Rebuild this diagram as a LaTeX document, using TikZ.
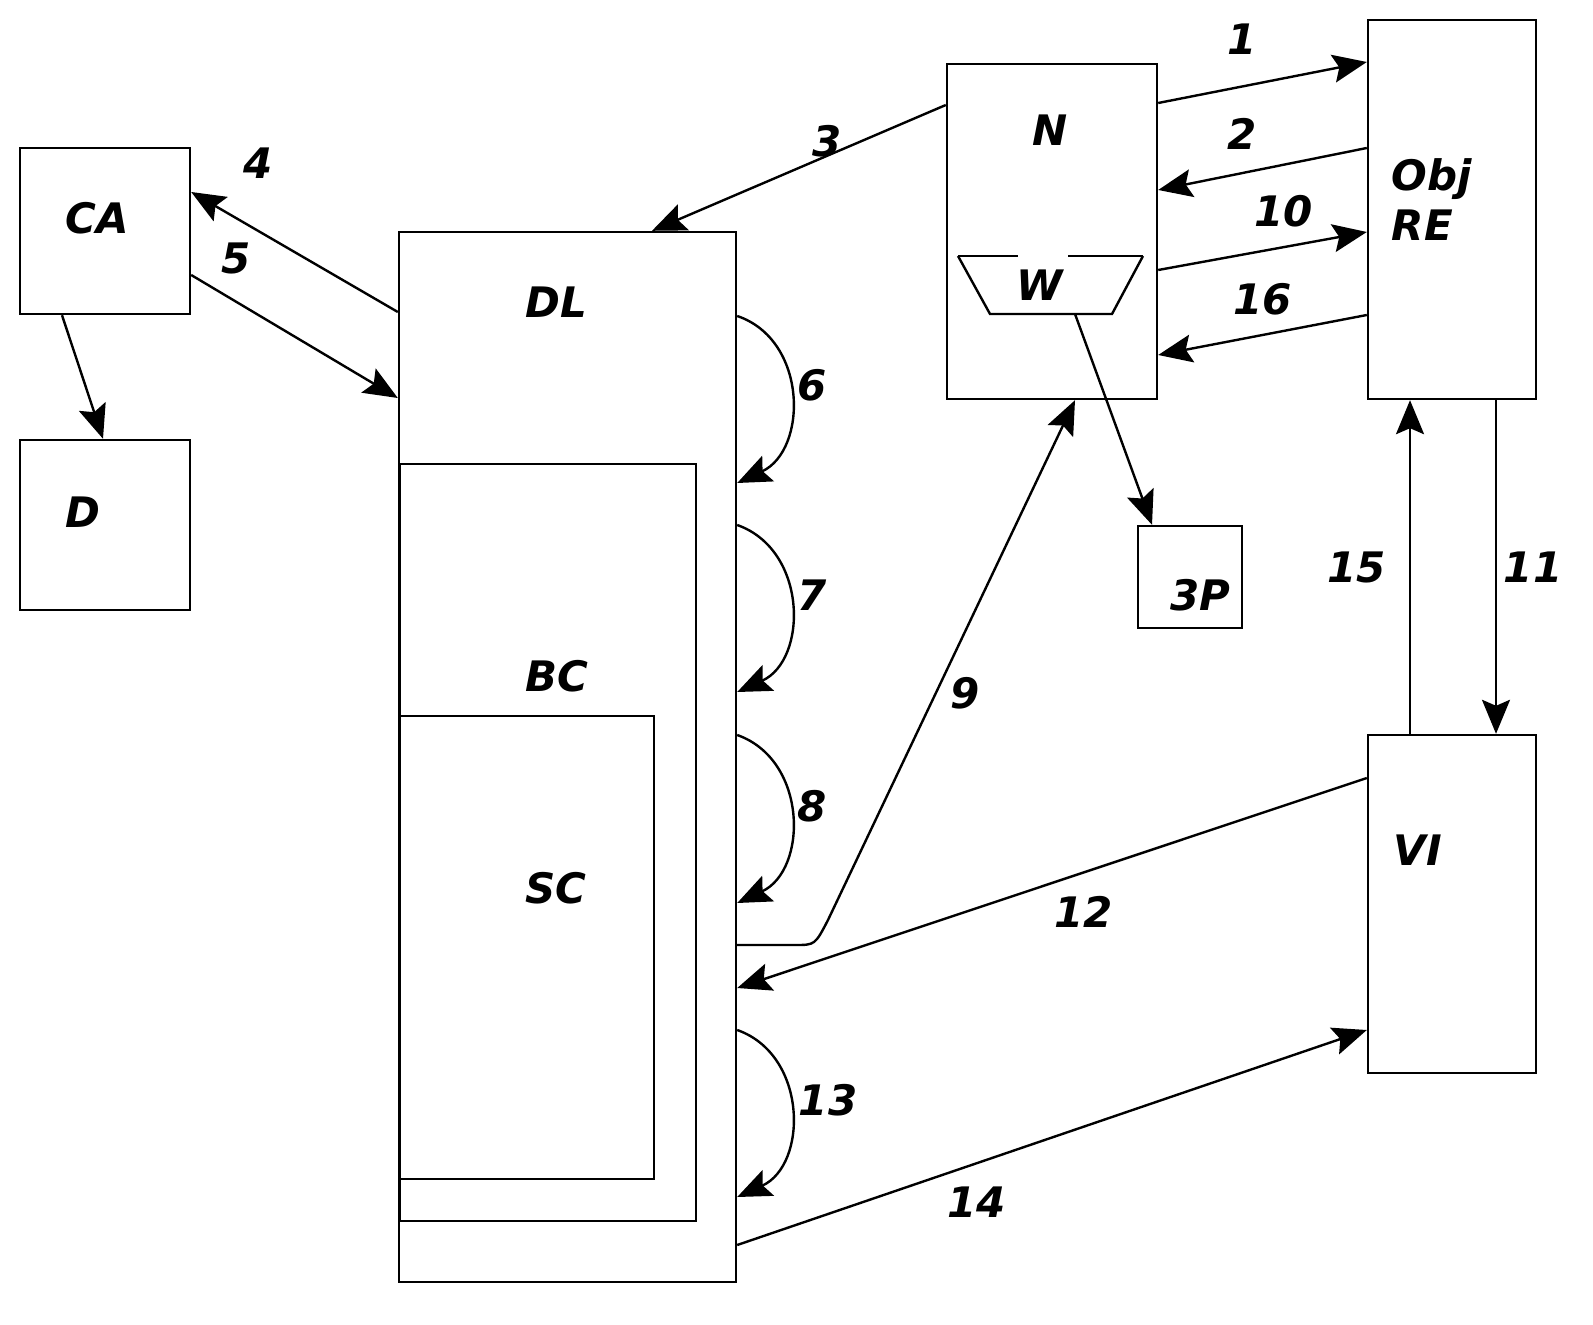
\documentclass[tikz,border=0pt]{standalone}
\usepackage{fontspec}
\setmainfont{DejaVu Sans}
\usetikzlibrary{arrows.meta, positioning}

\begin{document}
\begin{tikzpicture}[x=0.5pt, y=-0.5pt, line width=1.2pt,
  >={Stealth[length=17pt,width=14pt,inset=3pt]},
  box/.style={draw, rectangle, inner sep=0pt},
  lbl/.style={font=\fontsize{21}{25}\selectfont\bfseries\itshape, align=left}]
\useasboundingbox (0,0) rectangle (1593,1325);
% boxes
\node[box, minimum width=85pt, minimum height=83pt] (CA) at (105,231) {};
\node[box, minimum width=85pt, minimum height=85pt] (D) at (105,525) {};
\node[box, minimum width=168.5pt, minimum height=525pt] (DL) at (567.5,757) {};
\node[box, minimum width=148pt, minimum height=378.5pt, anchor=north west] (BC) at (399,463) {};
\node[box, minimum width=127pt, minimum height=231.5pt, anchor=north west] (SC) at (399,715) {};
\node[box, minimum width=105pt, minimum height=167.5pt] (N) at (1052,231.5) {};
\node[box, minimum width=52pt, minimum height=51pt] (P) at (1190,577) {};
\node[box, minimum width=84pt, minimum height=189.5pt] (RE) at (1452,209.5) {};
\node[box, minimum width=84pt, minimum height=169pt] (VI) at (1452,904) {};
% labels
\node[lbl] at (97,218) {CA};
\node[lbl] at (83,512) {D};
\node[lbl] at (556,302) {DL};
\node[lbl] at (557,676) {BC};
\node[lbl] at (556,888) {SC};
\node[lbl] at (1050,130) {N};
\node[lbl] at (1040,285) {W};
\node[lbl] at (1200,595) {3P};
\node[lbl] at (1432,200) {Obj\\RE};
\node[lbl] at (1418,850) {VI};
% trapezoid W
\draw (958,256) -- (1018,256);
\draw (1068,256) -- (1143,256);
\draw (958,256) -- (990,314) -- (1112,314) -- (1143,256);
\coordinate (W) at (1075,314);
% straight connectors
\draw[->] (N.east |- 0,103) -- node[lbl, pos=0.4, above=12pt] {1} (RE.west |- 0,62);
\draw[->] (RE.west |- 0,148) -- node[lbl, pos=0.6, above=8pt] {2} (N.east |- 0,190);
\draw[->] (N.east |- 0,270) -- node[lbl, pos=0.6, above=6pt] {10} (RE.west |- 0,232);
\draw[->] (RE.west |- 0,315) -- node[lbl, pos=0.5, above=6pt] {16} (N.east |- 0,355);
\draw[->] (N.west |- 0,105) -- node[lbl, pos=0.48, above right=0pt] {3} (DL.north -| 652,0);
\draw[->] (DL.west |- 0,312) -- (CA.east |- 0,192);
\node[lbl] at (258,163) {4};
\draw[->] (CA.east |- 0,275) -- (DL.west |- 0,398);
\node[lbl] at (236,258) {5};
\draw[->] (CA.south -| 62,0) -- (D.north -| 103,0);
\draw[->] (W) -- (P.north -| 1152,0);
\draw[->] (VI.west |- 0,778) -- node[lbl, pos=0.45, below=8pt] {12} (DL.east |- 0,988);
\draw[->] (DL.east |- 740,1245) -- node[lbl, pos=0.38, below=8pt] {14} (VI.west |- 0,1030);
\draw[->] (VI.north -| 1410,0) -- node[lbl, left=8pt] {15} (RE.south -| 1410,0);
\draw[->] (RE.south -| 1496,0) -- node[lbl, right=0pt] {11} (VI.north -| 1496,0);
% curved connectors
\draw[->] (DL.east |- 0,316) .. controls (808,340) and (808,450) .. (DL.east |- 0,483);
\node[lbl] at (812,385) {6};
\draw[->] (DL.east |- 0,525) .. controls (808,550) and (808,660) .. (DL.east |- 0,692);
\node[lbl] at (812,595) {7};
\draw[->] (DL.east |- 0,735) .. controls (808,760) and (808,870) .. (DL.east |- 0,903);
\node[lbl] at (812,806) {8};
\draw[->] (DL.east |- 0,1030) .. controls (808,1055) and (808,1165) .. (DL.east |- 0,1197);
\node[lbl] at (828,1100) {13};
\draw[->] (DL.east |- 0,945) -- (795,945) .. controls (815,945) .. (828,920) -- (N.south -| 1075,0);
\node[lbl] at (965,693) {9};
\end{tikzpicture}
\end{document}
